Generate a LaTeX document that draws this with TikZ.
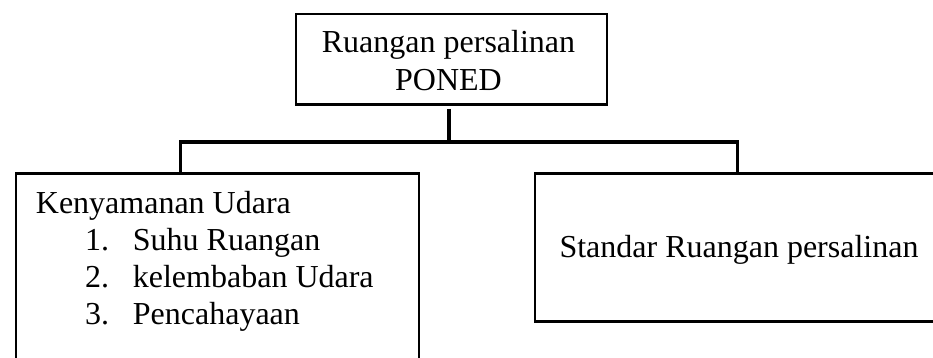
\documentclass[tikz,border=0pt]{standalone}
\usepackage{fontspec}
\setmainfont{Liberation Serif}
\begin{document}
\begin{tikzpicture}[x=1pt,y=-1pt,
  boxnode/.style={draw,line width=2.3pt,rectangle,inner sep=0pt,anchor=north west},
  lbl/.style={inner sep=0pt,font=\fontsize{32}{37}\selectfont},
  conn/.style={line width=3.8pt,line join=miter}]
\clip (0,0) rectangle (933,358);
\fill[white] (0,0) rectangle (933,358);
% boxes
\node[boxnode,minimum width=311.5pt,minimum height=90.8pt] (top) at (294.5,12.7) {};
\node[boxnode,minimum width=402.7pt,minimum height=240pt] (left) at (15,172.2) {};
\node[boxnode,minimum width=440pt,minimum height=148pt] (right) at (534,172.2) {};
% texts
\node[lbl,anchor=base] (t1) at (448.5,53) {Ruangan persalinan};
\node[lbl,anchor=base] (t2) at (448.5,91) {PONED};
\node[lbl,anchor=base west] (k0) at (35.7,213) {Kenyamanan Udara};
\node[lbl,anchor=base west] (k1) at (85,250.7) {\makebox[47.7pt][l]{1.}Suhu Ruangan};
\node[lbl,anchor=base west] (k2) at (85,287.5) {\makebox[47.7pt][l]{2.}kelembaban Udara};
\node[lbl,anchor=base west] (k3) at (85,324.3) {\makebox[47.7pt][l]{3.}Pencahayaan};
\node[lbl,anchor=base west] (s1) at (559.3,257.3) {Standar Ruangan persalinan};
% connectors
\coordinate (stemtop) at (449,109);
\coordinate (busL) at (180.5,142.2);
\coordinate (busR) at (737.5,142.2);
\draw[conn] (stemtop) -- (stemtop |- busL);
\draw[conn] (busL |- left.north) -- (busL) -- (busR) -- (busR |- right.north);
\end{tikzpicture}
\end{document}
